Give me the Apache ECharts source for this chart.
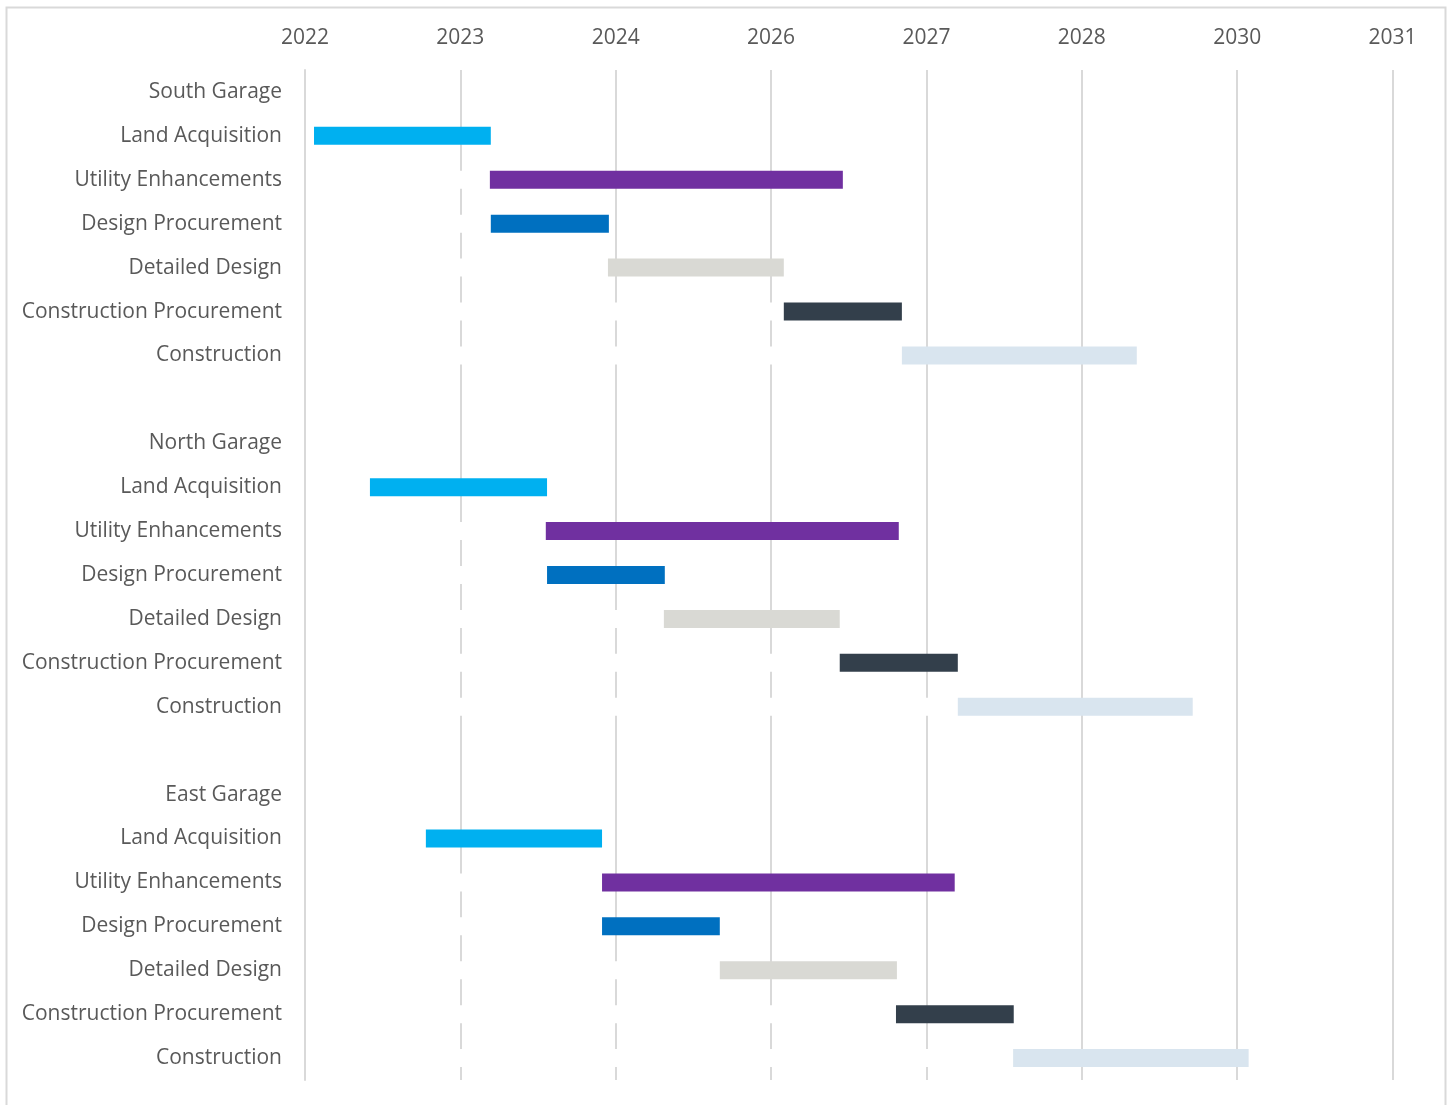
<!DOCTYPE html>
<html>
<head>
<meta charset="utf-8">
<script src="https://cdn.jsdelivr.net/npm/echarts@6/dist/echarts.min.js"></script>
<style>
html,body{margin:0;padding:0;background:#fff;}
#chart{width:1452px;height:1105px;}
</style>
</head>
<body>
<div id="chart"></div>
<script>
// Row labels (top to bottom); '' = spacer row
const categories = [
  'South Garage','Land Acquisition','Utility Enhancements','Design Procurement','Detailed Design','Construction Procurement','Construction',
  '',
  'North Garage','Land Acquisition','Utility Enhancements','Design Procurement','Detailed Design','Construction Procurement','Construction',
  '',
  'East Garage','Land Acquisition','Utility Enhancements','Design Procurement','Detailed Design','Construction Procurement','Construction'
];
// Task type of each row (null = no bar)
const taskTypes = [
  null,'land','utility','design','detailed','cproc','construction',
  null,
  null,'land','utility','design','detailed','cproc','construction',
  null,
  null,'land','utility','design','detailed','cproc','construction'
];
// Start / end in days since 2022-01-01
const startDays = [
  null, 29, 595, 598, 975, 1541, 1921,
  null,
  null, 209, 775, 779, 1155, 1721, 2101,
  null,
  null, 389, 956, 956, 1335, 1902, 2279
];
const endDays = [
  null, 598, 1731, 978, 1541, 1921, 2677,
  null,
  null, 779, 1911, 1158, 1721, 2101, 2857,
  null,
  null, 956, 2091, 1335, 1905, 2281, 3037
];
const baseDate = Date.UTC(2022, 0, 1);
const axisMin = 0, axisMax = 3500, axisStep = 500; // days
const taskColors = {
  land: '#00B0F0',
  utility: '#7030A0',
  design: '#0070C0',
  detailed: '#D9D9D4',
  cproc: '#333F4B',
  construction: '#D9E5EF'
};

const offsetData = startDays.map(s => s == null ? '-' : s);
const durData = startDays.map((s, i) => s == null ? '-' : {
  value: endDays[i] - s,
  itemStyle: { color: taskColors[taskTypes[i]] }
});

const chart = echarts.init(document.getElementById('chart'), null, { renderer: 'canvas' });
const font = '"Open Sans", "Noto Sans", sans-serif';
chart.setOption({
  animation: false,
  backgroundColor: '#fff',
  graphic: [{
    type: 'rect',
    shape: { x: 6.5, y: 7.5, width: 1439, height: 1120 },
    style: { fill: null, stroke: '#D9D9D9', lineWidth: 2 },
    silent: true
  }],
  grid: { left: 305, right: 59.5, top: 70, bottom: 25, containLabel: false },
  xAxis: {
    type: 'value',
    position: 'top',
    min: axisMin, max: axisMax, interval: axisStep,
    axisLine: { show: false },
    axisTick: { show: false },
    splitLine: { show: true, lineStyle: { color: '#D9D9D9', width: 2 } },
    axisLabel: {
      margin: 21,
      color: '#595959',
      fontFamily: font,
      fontSize: 21,
      formatter: v => String(new Date(baseDate + v * 86400000).getUTCFullYear())
    }
  },
  yAxis: {
    type: 'category',
    inverse: true,
    data: categories,
    z: 10,
    axisLine: { show: true, lineStyle: { color: '#D9D9D9', width: 2 } },
    axisTick: { show: false },
    splitLine: { show: false },
    axisLabel: {
      margin: 23,
      color: '#595959',
      fontFamily: font,
      fontSize: 21,
      interval: 0
    }
  },
  series: [
    {
      type: 'bar',
      stack: 'gantt',
      barWidth: 18,
      data: offsetData,
      itemStyle: { color: '#ffffff' },
      silent: true
    },
    {
      type: 'bar',
      stack: 'gantt',
      barWidth: 18,
      data: durData
    }
  ]
});
</script>
</body>
</html>
